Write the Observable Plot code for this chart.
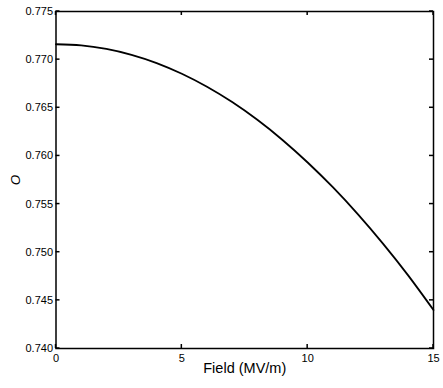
<!DOCTYPE html>
<html>
<head>
<meta charset="utf-8">
<script src="https://cdn.jsdelivr.net/npm/d3@7"></script>
<script src="https://cdn.jsdelivr.net/npm/@observablehq/plot@0.6"></script>
<style>
  html, body { margin: 0; padding: 0; background: #fff; }
  svg { display: block; }
  svg text { fill: #000; }
</style>
</head>
<body>
<div id="chart"></div>
<script>
const fieldValues = [0, 1, 2, 3, 4, 5, 6, 7, 8, 9, 10, 11, 12, 13, 14, 15];
const oValues = [0.7716, 0.77148, 0.77111, 0.7705, 0.76964, 0.76853, 0.76718, 0.76559,
                 0.76375, 0.76166, 0.75932, 0.75675, 0.75393, 0.75087, 0.74757, 0.7440];
const xTicks = [0, 5, 10, 15];
const yTicks = [0.740, 0.745, 0.750, 0.755, 0.760, 0.765, 0.770, 0.775];
const xLabel = "Field (MV/m)";
const yLabel = "O";

const data = fieldValues.map((f, i) => ({f, o: oValues[i]}));

const W = 443, H = 388;
const mt = 11, mb = 40, ml = 55.5, mr = 10;
const tl = 4;

const chart = Plot.plot({
  width: W,
  height: H,
  marginTop: mt,
  marginBottom: mb,
  marginLeft: ml,
  marginRight: mr,
  style: {fontFamily: "'Liberation Sans', Arial, sans-serif", fontSize: "11px", color: "#000", background: "#fff"},
  x: {domain: [0, 15]},
  y: {domain: [0.740, 0.775]},
  marks: [
    Plot.axisX({ticks: xTicks, tickSize: 0, tickPadding: 6, tickFormat: d => String(d), label: xLabel, labelAnchor: "center", labelOffset: 24}),
    Plot.axisY({ticks: yTicks, tickSize: 0, tickPadding: 3, tickFormat: d3.format(".3f"), label: yLabel, labelAnchor: "center", labelOffset: 46}),
    Plot.line(data, {x: "f", y: "o", curve: "natural", stroke: "#000", strokeWidth: 1.8}),
    Plot.frame({stroke: "#000", strokeWidth: 1.5})
  ]
});

// inward tick marks on all four sides, positioned with Plot's own scales
const sx = chart.scale("x"), sy = chart.scale("y");
const [x0, x1] = sx.range, [y0, y1] = sy.range;
const ns = "http://www.w3.org/2000/svg";
const g = document.createElementNS(ns, "g");
g.setAttribute("stroke", "#000");
g.setAttribute("stroke-width", "1.5");
function seg(a, b, c, d) {
  const l = document.createElementNS(ns, "line");
  l.setAttribute("x1", a); l.setAttribute("y1", b);
  l.setAttribute("x2", c); l.setAttribute("y2", d);
  g.appendChild(l);
}
xTicks.forEach(v => {
  const px = sx.apply(v);
  seg(px, y0, px, y0 - tl);
  seg(px, y1, px, y1 + tl);
});
yTicks.forEach(v => {
  const py = sy.apply(v);
  seg(x0, py, x0 + tl, py);
  seg(x1, py, x1 - tl, py);
});
chart.appendChild(g);

chart.querySelectorAll('g[aria-label="x-axis label"] text').forEach(t => {
  t.textContent = xLabel;
  t.setAttribute("font-size", "14.5px");
});
chart.querySelectorAll('g[aria-label="y-axis label"] text').forEach(t => {
  t.textContent = yLabel;
  t.setAttribute("font-size", "13.5px");
  t.setAttribute("font-style", "italic");
});
document.getElementById("chart").appendChild(chart);
</script>
</body>
</html>
